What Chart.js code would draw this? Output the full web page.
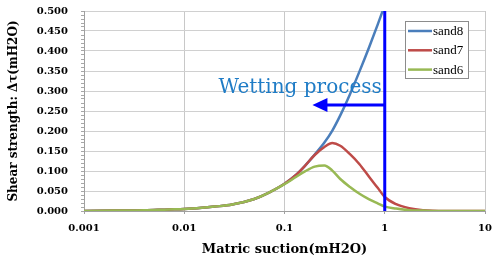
<!DOCTYPE html>
<html>
<head>
<meta charset="utf-8">
<script src="https://cdn.jsdelivr.net/npm/chart.js@4/dist/chart.umd.min.js"></script>
<style>
  html, body { margin: 0; padding: 0; background: #ffffff; }
  #wrap { width: 492px; height: 262px; }
</style>
</head>
<body>
<div id="wrap"><canvas id="c" width="492" height="262"></canvas></div>
<script>
// ---- data ----
const suction = [0.001, 0.002, 0.004, 0.007, 0.01, 0.015, 0.02, 0.03, 0.05, 0.07, 0.1, 0.13, 0.16, 0.2, 0.25, 0.3, 0.36, 0.45, 0.56, 0.7, 0.85, 1.0, 1.3, 1.75, 2.4, 4, 10];
const sand8 = [0.0, 0.001, 0.002, 0.004, 0.005, 0.008, 0.011, 0.016, 0.030, 0.046, 0.068, 0.090, 0.113, 0.141, 0.171, 0.201, 0.239, 0.292, 0.349, 0.410, 0.466, 0.515, null, null, null, null, null];
const sand7 = [0.0, 0.001, 0.002, 0.004, 0.005, 0.008, 0.011, 0.016, 0.030, 0.046, 0.068, 0.090, 0.113, 0.140, 0.160, 0.170, 0.163, 0.142, 0.117, 0.085, 0.058, 0.035, 0.017, 0.007, 0.002, 0.0, 0.0];
const sand6 = [0.0, 0.001, 0.002, 0.004, 0.005, 0.008, 0.011, 0.016, 0.030, 0.046, 0.067, 0.085, 0.099, 0.111, 0.114, 0.101, 0.080, 0.060, 0.043, 0.029, 0.019, 0.011, 0.006, 0.002, 0.001, 0.0, 0.0];
const seriesNames = ['sand8', 'sand7', 'sand6'];
const xTickValues = [0.001, 0.01, 0.1, 1, 10];
const xTickLabels = ['0.001', '0.01', '0.1', '1', '10'];
const yTickStep = 0.01;
const yLabelStep = 0.05;
const annotationText = 'Wetting process';
const wettingSuction = 1;      // vertical line position (mH2O)
const arrowLevel = 0.265;      // arrow height (Δτ)
const arrowTip = 0.19;         // arrow tip (mH2O)
const textLevel = 0.294;       // text baseline (Δτ)

const colors = ['#4a7ebb', '#be4b48', '#98b954'];

function pts(arr) {
  return suction.map((x, i) => ({ x: x, y: arr[i] }));
}

const wettingPlugin = {
  id: 'wetting',
  afterDatasetsDraw(chart) {
    const ctx = chart.ctx;
    const xs = chart.scales.x, ys = chart.scales.y;
    const x1 = xs.getPixelForValue(wettingSuction);
    const y0 = ys.getPixelForValue(0);
    const yTop = ys.getPixelForValue(0.5);
    ctx.save();
    ctx.strokeStyle = '#0000ff';
    ctx.fillStyle = '#0000ff';
    ctx.lineWidth = 3;
    ctx.beginPath();
    ctx.moveTo(x1, y0);
    ctx.lineTo(x1, yTop);
    ctx.stroke();
    const ya = ys.getPixelForValue(arrowLevel);
    const xt = xs.getPixelForValue(arrowTip);
    ctx.beginPath();
    ctx.moveTo(x1, ya);
    ctx.lineTo(xt + 12, ya);
    ctx.stroke();
    ctx.beginPath();
    ctx.moveTo(xt, ya);
    ctx.lineTo(xt + 15, ya - 7);
    ctx.lineTo(xt + 15, ya + 7);
    ctx.closePath();
    ctx.fill();
    ctx.font = '20px "DejaVu Serif"';
    ctx.fillStyle = '#1f7cc6';
    ctx.textAlign = 'right';
    ctx.textBaseline = 'alphabetic';
    ctx.fillText(annotationText, x1 - 3, ys.getPixelForValue(textLevel));
    ctx.restore();
  },
  afterDraw(chart) {
    const ctx = chart.ctx;
    const bx = 405, by = 21, bw = 63, bh = 57;
    ctx.save();
    ctx.fillStyle = '#ffffff';
    ctx.fillRect(bx, by, bw, bh);
    ctx.strokeStyle = '#8c8c8c';
    ctx.lineWidth = 1;
    ctx.strokeRect(bx + 0.5, by + 0.5, bw, bh);
    ctx.font = '13px "Liberation Serif"';
    ctx.textBaseline = 'middle';
    ctx.textAlign = 'left';
    seriesNames.forEach((n, i) => {
      const yy = by + 10 + i * 19.3;
      ctx.strokeStyle = colors[i];
      ctx.lineWidth = 2.5;
      ctx.beginPath();
      ctx.moveTo(bx + 3, yy);
      ctx.lineTo(bx + 27, yy);
      ctx.stroke();
      ctx.fillStyle = '#000000';
      ctx.fillText(n, bx + 28, yy + 0.5);
    });
    ctx.restore();
  }
};

const tickFont = { family: '"DejaVu Serif"', size: 10, weight: 'bold' };

new Chart(document.getElementById('c'), {
  type: 'line',
  data: {
    datasets: [
      { label: seriesNames[0], data: pts(sand8), borderColor: colors[0], order: 2 },
      { label: seriesNames[1], data: pts(sand7), borderColor: colors[1], order: 1 },
      { label: seriesNames[2], data: pts(sand6), borderColor: colors[2], order: 0 }
    ]
  },
  options: {
    responsive: false,
    animation: false,
    layout: { padding: { top: 11, right: 7, left: 0, bottom: 0 } },
    elements: {
      point: { radius: 0 },
      line: { borderWidth: 2.5, tension: 0.4, cubicInterpolationMode: 'monotone', fill: false }
    },
    plugins: { legend: { display: false }, tooltip: { enabled: false } },
    scales: {
      x: {
        type: 'logarithmic',
        min: 0.001, max: 10,
        afterBuildTicks(s) { s.ticks = xTickValues.map(v => ({ value: v })); },
        afterFit(s) { s.height = 51; s.paddingLeft = 0; s.paddingRight = 0; },
        ticks: {
          autoSkip: false, maxRotation: 0, padding: 8,
          color: '#000', font: tickFont,
          callback(v) { const i = xTickValues.indexOf(v); return i >= 0 ? xTickLabels[i] : ''; }
        },
        grid: { color: '#c8c8c8', tickLength: 3, tickColor: '#a0a0a0' },
        border: { color: '#a0a0a0' },
        title: {
          display: true, text: 'Matric suction(mH2O)', color: '#000',
          font: { family: '"DejaVu Serif"', size: 13, weight: 'bold' },
          padding: { top: 0, bottom: 5 }
        }
      },
      y: {
        min: 0, max: 0.5,
        afterFit(s) { s.width = 84; s.paddingTop = 0; s.paddingBottom = 0; },
        ticks: {
          stepSize: yTickStep, autoSkip: false, maxTicksLimit: 100, padding: 13,
          color: '#000', font: tickFont,
          callback(v) {
            const k = Math.round(v / yTickStep);
            return (k % Math.round(yLabelStep / yTickStep) === 0) ? v.toFixed(3) : '';
          }
        },
        grid: {
          tickLength: 3, tickColor: '#a8a8a8',
          color(c) {
            const k = Math.round(c.tick.value / yTickStep);
            return (k % Math.round(yLabelStep / yTickStep) === 0) ? '#d0d0d0' : 'rgba(0,0,0,0)';
          }
        },
        border: { color: '#a0a0a0' },
        title: {
          display: true, text: 'Shear strength: Δτ(mH2O)', color: '#000',
          font: { family: '"DejaVu Serif"', size: 12, weight: 'bold' },
          padding: { top: 7, bottom: 0 }
        }
      }
    }
  },
  plugins: [wettingPlugin]
});
</script>
</body>
</html>
